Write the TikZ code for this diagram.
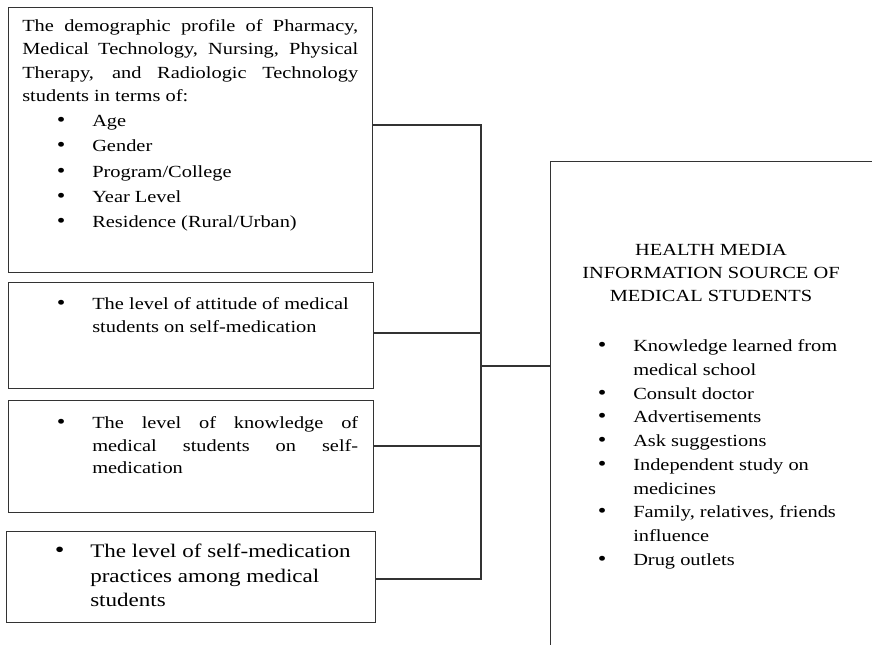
\documentclass[tikz,border=0pt]{standalone}
\usepackage{fontspec}
\setmainfont{Liberation Serif}[FakeStretch=1.2]
\usepackage{tikz}

\newcommand{\jline}[2][\linewidth]{\makebox[#1][s]{#2}}
\newcommand{\bitem}[1]{\par\hangindent=52.5pt\hangafter=1\noindent\hspace*{26pt}\makebox[26.5pt][l]{\scalebox{1.2}{\textbullet}}#1\par}

\tikzset{
  frame/.style={draw=black!80, line width=0.95pt, rectangle, inner sep=0pt, anchor=north west},
  txt/.style={inner sep=0pt, anchor=base west},
  wire/.style={draw=black!80, line width=0.95pt}
}

\begin{document}
\begin{tikzpicture}[x=0.75pt,y=-0.75pt]
	\useasboundingbox (0,0) rectangle (872,645);
	\clip (0,0) rectangle (872,645);

	\node[frame, minimum width=364*0.75pt, minimum height=265*0.75pt] (profile) at (8,7) {};
	\node[frame, minimum width=365*0.75pt, minimum height=106*0.75pt] (attitude) at (8,282) {};
	\node[frame, minimum width=365*0.75pt, minimum height=112*0.75pt] (knowledge) at (8,400) {};
	\node[frame, minimum width=369*0.75pt, minimum height=91*0.75pt] (practice) at (6,531) {};
	\node[frame, minimum width=340*0.75pt, minimum height=500*0.75pt] (media) at (550,161) {};

	\node[txt] (profiletext) at (22,31.5) {\parbox[t]{252pt}{\fontsize{12.75}{17.5}\selectfont
		\jline{The demographic profile of Pharmacy,}\\
		\jline{Medical Technology, Nursing, Physical}\\
		\jline{Therapy, and Radiologic Technology}\\
		students in terms of:\par
		\baselineskip=18.9pt
		\bitem{Age}
		\bitem{Gender}
		\bitem{Program/College}
		\bitem{Year Level}
		\bitem{Residence (Rural/Urban)}}};
	\node[txt] (attitudetext) at (22,309.5) {\parbox[t]{252pt}{\fontsize{12.75}{17}\selectfont
		\bitem{The level of attitude of medical\\ students on self-medication}}};
	\node[txt] (knowledgetext) at (22,429) {\parbox[t]{252pt}{\fontsize{12.75}{16.75}\selectfont
		\bitem{\jline[199.5pt]{The level of knowledge of}\\ \jline[199.5pt]{medical students on self-}\\ medication}}};
	\node[txt] (practicetext) at (20,557.5) {\parbox[t]{265pt}{\fontsize{14.4}{18.5}\selectfont
		\bitem{The level of self-medication\\ practices among medical\\ students}}};

	\node[inner sep=0pt, anchor=base] (mediahead) at (711,256) {\parbox[t]{240pt}{\centering\fontsize{12.75}{17.2}\selectfont
		HEALTH MEDIA\\ INFORMATION SOURCE OF\\ MEDICAL STUDENTS}};
	\node[txt] (medialist) at (563,351.7) {\parbox[t]{215pt}{\fontsize{12.75}{17.8}\selectfont
		\bitem{Knowledge learned from\\ medical school}
		\bitem{Consult doctor}
		\bitem{Advertisements}
		\bitem{Ask suggestions}
		\bitem{Independent study on\\ medicines}
		\bitem{Family, relatives, friends\\ influence}
		\bitem{Drug outlets}}};

	\coordinate (jtop) at (481,125);
	\coordinate (jatt) at (481,333);
	\coordinate (jmid) at (481,366);
	\coordinate (jknow) at (481,446);
	\coordinate (jbot) at (481,579);

	\draw[wire] (profile.east |- jtop) -- (jtop) -- (jbot) -- (practice.east |- jbot);
	\draw[wire] (attitude.east |- jatt) -- (jatt);
	\draw[wire] (knowledge.east |- jknow) -- (jknow);
	\draw[wire] (jmid) -- (media.west |- jmid);
\end{tikzpicture}
\end{document}
